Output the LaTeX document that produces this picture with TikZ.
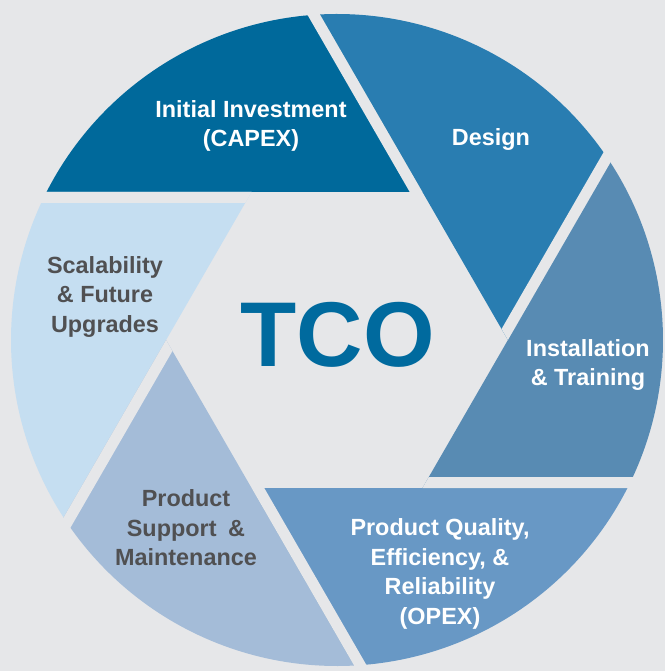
\documentclass[tikz,border=0pt]{standalone}
\usepackage{fontspec}
\setmainfont{Liberation Sans}
\usetikzlibrary{calc}
\definecolor{bg}{HTML}{E6E7E9}
\definecolor{cInitial}{HTML}{00699B}
\definecolor{cDesign}{HTML}{297DB1}
\definecolor{cInstall}{HTML}{588BB3}
\definecolor{cOpex}{HTML}{6898C5}
\definecolor{cSupport}{HTML}{A4BCD8}
\definecolor{cScal}{HTML}{C5DEF1}
\definecolor{txtgray}{HTML}{505052}
\definecolor{tcoblue}{HTML}{006A9E}
\tikzset{
  lbl/.style={font=\bfseries\fontsize{23.4}{29.5}\selectfont, align=center, text=white, inner sep=0pt},
  lbldark/.style={lbl, text=txtgray},
  gapstrip/.style={fill=bg}
}
\begin{document}
\begin{tikzpicture}[x=1pt,y=1pt]
\fill[bg] (-337,-331) rectangle (328,340);
\useasboundingbox (-337,-331) rectangle (328,340);
\def\rc{326}
\def\rh{170.896}
\foreach \k in {0,...,5} { \coordinate (V\k) at ({60*\k}:\rh); }
% blades
\fill[cDesign]  (V0) -- (V1) -- (93:\rc)  arc[start angle=93,  end angle=33,  radius=\rc] -- cycle;
\fill[cInitial] (V1) -- (V2) -- (153:\rc) arc[start angle=153, end angle=93,  radius=\rc] -- cycle;
\fill[cScal]    (V2) -- (V3) -- (213:\rc) arc[start angle=213, end angle=153, radius=\rc] -- cycle;
\fill[cSupport] (V3) -- (V4) -- (273:\rc) arc[start angle=273, end angle=213, radius=\rc] -- cycle;
\fill[cOpex]    (V4) -- (V5) -- (333:\rc) arc[start angle=333, end angle=273, radius=\rc] -- cycle;
\fill[cInstall] (V5) -- (V0) -- (33:\rc)  arc[start angle=33,  end angle=-27, radius=\rc] -- cycle;
% gaps
\foreach \k in {0,...,5} {
  \fill[gapstrip] (V\k) -- ($(V\k)+({60*\k+60}:240)$) -- ($(V\k)+({60*\k+60}:240)+({60*\k+150}:11)$) -- ($(V\k)+({60*\k+120}:12.7)$) -- cycle;
}
% labels
\node[lbl] (initial) at (-86,214) {Initial Investment\\(CAPEX)};
\node[lbl] (design) at (154,200) {Design};
\node[lbl] (install) at (251,-25) {Installation\\\&~Training};
\node[lbl] (opex) at (103,-234) {Product Quality,\\Efficiency, \&\\Reliability\\(OPEX)};
\node[lbldark] (support) at (-151,-188) {Product\\Support\enspace\&\\Maintenance};
\node[lbldark] (scal) at (-232,43) {Scalability\\\&~Future\\Upgrades};
\node[text=tcoblue, font=\bfseries\fontsize{92}{92}\selectfont, inner sep=0pt] (tco) at (0.5,5) {TCO};
\end{tikzpicture}
\end{document}
